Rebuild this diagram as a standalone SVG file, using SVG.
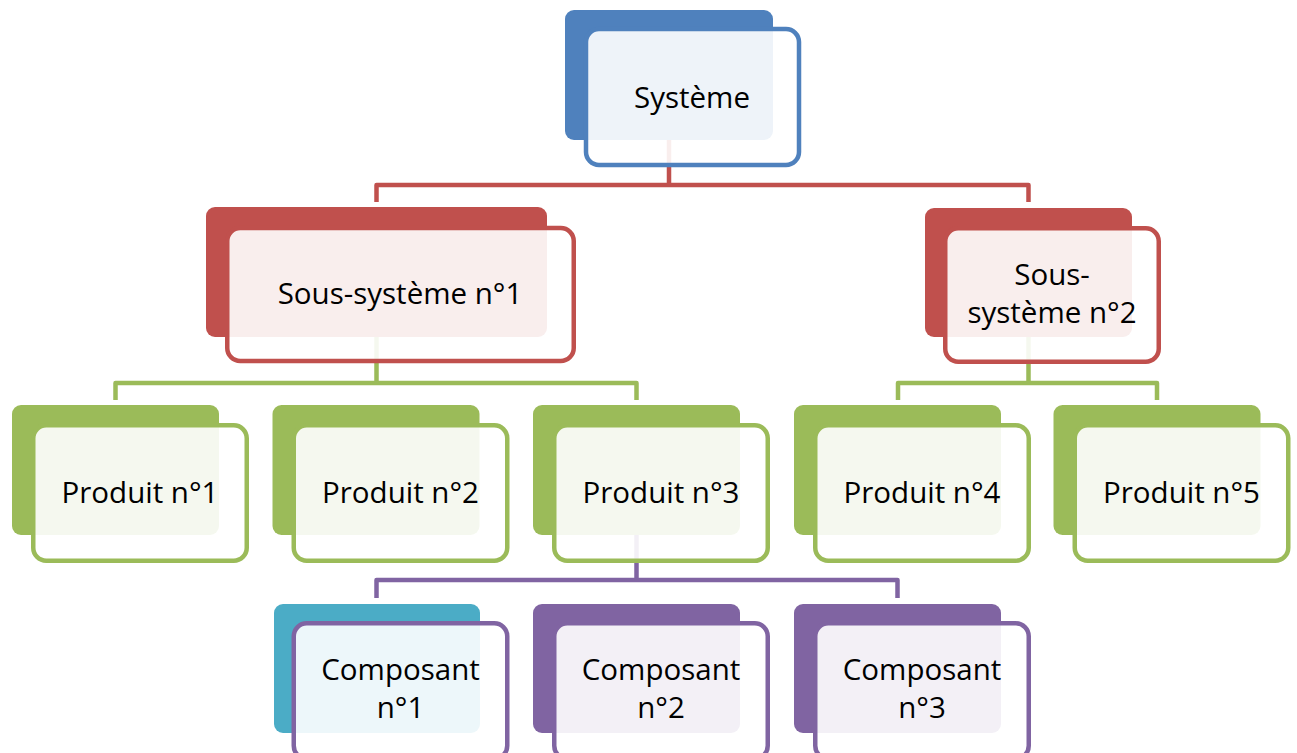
<svg xmlns="http://www.w3.org/2000/svg" width="1297" height="753" viewBox="0 0 1297 753">
<style>
.bk{rx:9;ry:9}
.fr{fill:#ffffff;fill-opacity:0.9;stroke-width:4.5;rx:13;ry:13}
.c{fill:none;stroke-width:4.5;stroke-linejoin:round}
text{font-family:"Open Sans","Liberation Sans",sans-serif;font-size:29.5px;fill:#000;text-anchor:middle}
.blue .bk{fill:#4F81BD}.blue .fr{stroke:#4F81BD}
.red .bk{fill:#C0504D}.red .fr{stroke:#C0504D}
.green .bk{fill:#9BBB59}.green .fr{stroke:#9BBB59}
.purple .bk{fill:#8064A2}.purple .fr{stroke:#8064A2}
.teal .bk{fill:#4BACC6}
</style>
<rect width="1297" height="753" fill="#ffffff"/>
<g id="connectors">
<path class="c" stroke="#C0504D" d="M669,140 V185 M376.5,202 V185 H1028.5 V202"/>
<path class="c" stroke="#9BBB59" d="M376.5,337 V383 M115.5,400 V383 H636.5 V400"/>
<path class="c" stroke="#9BBB59" d="M1028.5,337 V383 M898,400 V383 H1157 V400"/>
<path class="c" stroke="#8064A2" d="M636.5,535 V580 M376.5,598 V580 H897.5 V598"/>
</g>
<g id="systeme" class="blue">
<rect class="bk" x="565" y="10" width="208" height="130"/>
<rect class="fr" x="586" y="29" width="213" height="136"/>
<text x="692" y="108">Système</text>
</g>
<g id="sous-systeme-1" class="red">
<rect class="bk" x="206" y="207" width="341" height="130"/>
<rect class="fr" x="227.25" y="228" width="346.5" height="133"/>
<text x="400" y="304">Sous-système n°1</text>
</g>
<g id="sous-systeme-2" class="red">
<rect class="bk" x="925" y="208" width="207" height="129"/>
<rect class="fr" x="945.25" y="228.25" width="213.5" height="133.5"/>
<text x="1052" y="285">Sous-</text>
<text x="1052" y="323">système n°2</text>
</g>
<g id="produit-1" class="green">
<rect class="bk" x="12" y="405" width="207" height="130"/>
<rect class="fr" x="33.25" y="425.25" width="213.5" height="135.5"/>
<text x="140" y="503">Produit n°1</text>
</g>
<g id="produit-2" class="green">
<rect class="bk" x="272.5" y="405" width="207" height="130"/>
<rect class="fr" x="293.75" y="425.25" width="213.5" height="135.5"/>
<text x="400.5" y="503">Produit n°2</text>
</g>
<g id="produit-3" class="green">
<rect class="bk" x="533" y="405" width="207" height="130"/>
<rect class="fr" x="554.25" y="425.25" width="213.5" height="135.5"/>
<text x="661" y="503">Produit n°3</text>
</g>
<g id="produit-4" class="green">
<rect class="bk" x="794" y="405" width="207" height="130"/>
<rect class="fr" x="815.25" y="425.25" width="213.5" height="135.5"/>
<text x="922" y="503">Produit n°4</text>
</g>
<g id="produit-5" class="green">
<rect class="bk" x="1053.5" y="405" width="207" height="130"/>
<rect class="fr" x="1074.75" y="425.25" width="213.5" height="135.5"/>
<text x="1181.5" y="503">Produit n°5</text>
</g>
<g id="composant-1" class="purple teal">
<rect class="bk" x="274" y="604" width="206" height="129"/>
<rect class="fr" x="293.75" y="623.25" width="213.5" height="135.5"/>
<text x="400.5" y="680">Composant</text>
<text x="400.5" y="718">n°1</text>
</g>
<g id="composant-2" class="purple">
<rect class="bk" x="533" y="604" width="207" height="129"/>
<rect class="fr" x="554.25" y="623.25" width="213.5" height="135.5"/>
<text x="661" y="680">Composant</text>
<text x="661" y="718">n°2</text>
</g>
<g id="composant-3" class="purple">
<rect class="bk" x="794" y="604" width="207" height="129"/>
<rect class="fr" x="815.25" y="623.25" width="213.5" height="135.5"/>
<text x="922" y="680">Composant</text>
<text x="922" y="718">n°3</text>
</g>
</svg>
